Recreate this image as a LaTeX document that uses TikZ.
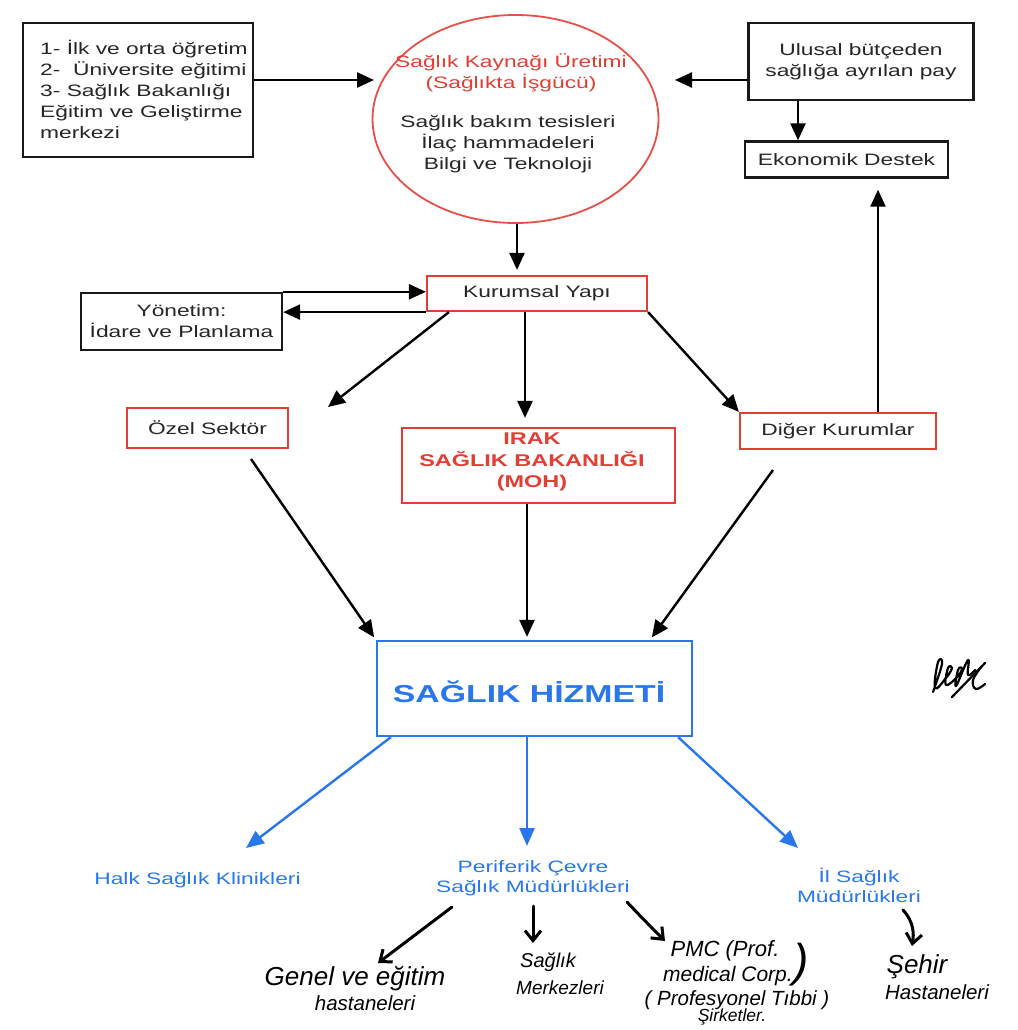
\documentclass[tikz,border=0pt]{standalone}
\usepackage{fontspec}
\setmainfont[FakeStretch=1.38]{Liberation Sans}
\newfontfamily\handfont{Liberation Sans}
\usetikzlibrary{arrows.meta,shapes.geometric}
\definecolor{dred}{RGB}{226,62,52}
\definecolor{dblue}{RGB}{40,120,235}
\begin{document}
\begin{tikzpicture}[x=1pt,y=-1pt,
  every node/.style={font=\fontsize{16.5}{21}\selectfont, inner sep=0pt, text=black!85},
  bbox/.style={draw=black!90, line width=2.4pt},
  rbox/.style={draw=dred, line width=2.2pt},
  arr/.style={-{Triangle[length=17pt,width=15pt]}, line width=2.4pt},
  barr/.style={-{Triangle[length=18pt,width=15pt]}, line width=2.4pt, draw=dblue, fill=dblue},
  harr/.style={-{Straight Barb[length=10pt,width=16pt,line width=3pt]}, line width=3pt, line cap=round, line join=round},
  hw/.style={font=\handfont\itshape\fontsize{#1}{#1}\selectfont, text=black},
  txt/.style={align=center},
  sig/.style={line width=2.2pt, line cap=round, line join=round}]
\fill[white] (0,0) rectangle (1017,1030);
\useasboundingbox (0,0) rectangle (1017,1030);

% top row
\node[bbox, minimum width=230, minimum height=134] (edu) at (138,90) {};
\node[align=left, anchor=west] (edutxt) at (40,89) {1- İlk ve orta öğretim\\2-\ \ Üniversite eğitimi\\3- Sağlık Bakanlığı\\Eğitim ve Geliştirme\\merkezi};

\node[ellipse, draw=dred!90, line width=1.8pt, minimum width=286, minimum height=208] (src) at (515.5,119) {};
\node[txt, text=dred] (srcred) at (511,72.5) {Sağlık Kaynağı Üretimi\\(Sağlıkta İşgücü)};
\node[txt] (srcblk) at (508,144) {Sağlık bakım tesisleri\\İlaç hammadeleri\\Bilgi ve Teknoloji};

\node[bbox, minimum width=225, minimum height=77, txt] (bud) at (861,61.5) {Ulusal bütçeden\\sağlığa ayrılan pay};
\node[bbox, minimum width=203, minimum height=36] (eko) at (846.5,159.5) {Ekonomik Destek};

% middle
\node[rbox, minimum width=220, minimum height=35] (kur) at (537,293.5) {Kurumsal Yapı};
\node[bbox, minimum width=201, minimum height=57, txt] (yon) at (181.5,321.5) {Yönetim:\\İdare ve Planlama};
\node[rbox, minimum width=161, minimum height=40] (ozel) at (207.5,428) {Özel Sektör};
\node[rbox, minimum width=273, minimum height=75] (moh) at (538.5,465.5) {};
\node[txt, text=dred, font=\bfseries\fontsize{17}{21.5}\selectfont] (mohtxt) at (532,462) {IRAK\\SAĞLIK BAKANLIĞI\\(MOH)};
\node[rbox, minimum width=196, minimum height=36] (dig) at (838,431) {Diğer Kurumlar};

\node[draw=dblue, line width=2.2pt, minimum width=315, minimum height=95] (hiz) at (534.5,688.5) {};
\node[text=dblue, font=\bfseries\fontsize{24.5}{28}\selectfont] (hiztxt) at (529,692) {SAĞLIK HİZMETİ};

% blue labels
\node[text=dblue] (halk) at (197.5,880) {Halk Sağlık Klinikleri};
\node[txt, text=dblue, font=\fontsize{16.5}{20}\selectfont] (per) at (533,878) {Periferik Çevre\\Sağlık Müdürlükleri};
\node[txt, text=dblue, font=\fontsize{16.5}{20}\selectfont] (il) at (859,885) {İl Sağlık\\Müdürlükleri};

% handwritten labels
\node[hw=26] (gen1) at (355,979) {Genel ve eğitim};
\node[hw=20.5] (gen2) at (365,1003) {hastaneleri};
\node[hw=20] (mer1) at (548,962) {Sağlık};
\node[hw=19] (mer2) at (560,988) {Merkezleri};
\node[hw=22] (pmc1) at (725,951) {PMC (Prof.};
\node[hw=21] (pmc2) at (728,976) {medical Corp.};
\node[hw=46] (pmcp) at (801,965) {)};
\node[hw=20.5] (pmc3) at (737,1000) {( Profesyonel Tıbbi )};
\node[hw=17.5] (pmc4) at (732,1017) {Şirketler.};
\node[hw=26] (seh1) at (917,967) {Şehir};
\node[hw=20.5] (seh2) at (937,992) {Hastaneleri};

% coordinates
\coordinate (srcW) at (374,80);
\coordinate (srcE) at (675,80);
\coordinate (x798) at (798,0);
\coordinate (x517) at (517,0);
\coordinate (x525) at (525,0);
\coordinate (x527) at (527,0);
\coordinate (x878) at (878,0);
\coordinate (x650) at (650,0);
\coordinate (ozelT) at (328,407);
\coordinate (ozelB) at (251,459);
\coordinate (digB) at (773,470);
\coordinate (halkT) at (246,848);
\coordinate (perT) at (527,846);
\coordinate (ilT) at (798,848);

% black arrows
\draw[arr] (edu.east |- srcW) -- (srcW);
\draw[arr] (bud.west |- srcE) -- (srcE);
\draw[arr] (bud.south -| x798) -- (eko.north -| x798);
\draw[arr, shorten >=5pt] (src.south -| x517) -- (kur.north -| x517);
\draw[arr] (yon.north east) -- (yon.north east -| kur.west);
\draw[arr] (kur.south west) -- (kur.south west -| yon.east);
\draw[arr] ([xshift=23pt]kur.south west) -- (ozelT);
\draw[arr, shorten >=9pt] (kur.south -| x525) -- (moh.north -| x525);
\draw[arr] (kur.south east) -- (dig.north west);
\draw[arr, shorten >=11pt] (dig.north -| x878) -- (eko.south -| x878);
\draw[arr, shorten >=3pt] (ozelB) -- (hiz.north west);
\draw[arr, shorten >=3pt] (moh.south -| x527) -- (hiz.north -| x527);
\draw[arr, shorten >=3pt] (digB) -- (hiz.north -| x650);

% blue arrows
\draw[barr] ([xshift=15pt]hiz.south west) -- (halkT);
\draw[barr] (hiz.south -| x527) -- (perT);
\draw[barr] ([xshift=-15pt]hiz.south east) -- (ilT);

% hand arrows
\coordinate (h1s) at (452,907); \coordinate (h1e) at (378,963);
\coordinate (h2s) at (533,906); \coordinate (h2e) at (533,943);
\coordinate (h3s) at (627,902); \coordinate (h3e) at (665,941);
\coordinate (h4s) at (903,910); \coordinate (h4e) at (912,946);
\draw[harr] (h1s) -- (h1e);
\draw[harr] (h2s) -- (h2e);
\draw[harr] (h3s) .. controls (642,918) and (654,930) .. (h3e);
\draw[harr] (h4s) .. controls (914,922) and (914,934) .. (h4e);

% signature
\draw[sig] plot[smooth, tension=0.7] coordinates {(933,692) (942,664) (938,662) (935,688) (946,678) (952,668) (948,668) (946,685) (958,676) (962,668) (958,670) (956,686) (968,660) (968,675) (975,670)};
\draw[sig] (952,697) -- (985,663);
\draw[sig] plot[smooth, tension=0.7] coordinates {(982,666) (973,680) (976,689) (985,684)};
\end{tikzpicture}
\end{document}
